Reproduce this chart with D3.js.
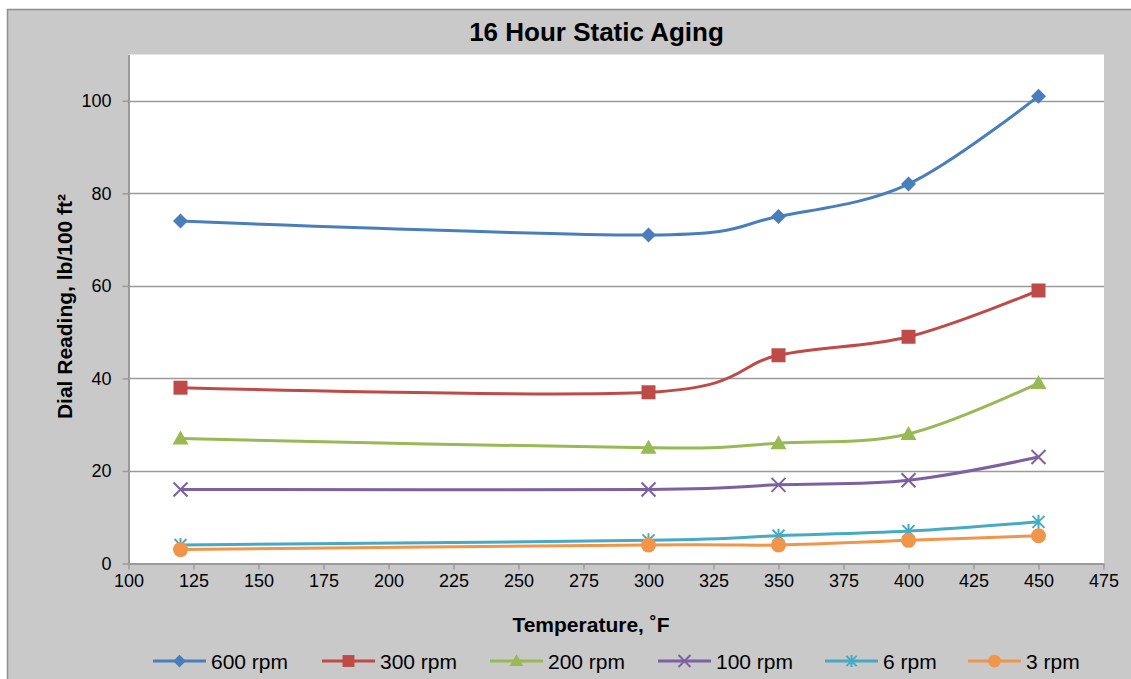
<!DOCTYPE html>
<html><head><meta charset="utf-8">
<script src="https://cdn.jsdelivr.net/npm/d3@7"></script>
<style>body{margin:0;background:#fff;}svg{display:block;font-family:"Liberation Sans",Arial,sans-serif;}</style>
</head><body><svg id="c" width="1131" height="679"></svg>
<script>
const temps = [120, 300, 350, 400, 450];
const seriesNames = ["600 rpm", "300 rpm", "200 rpm", "100 rpm", "6 rpm", "3 rpm"];
const rpm600 = [74, 71, 75, 82, 101];
const rpm300 = [38, 37, 45, 49, 59];
const rpm200 = [27, 25, 26, 28, 39];
const rpm100 = [16, 16, 17, 18, 23];
const rpm6 = [4, 5, 6, 7, 9];
const rpm3 = [3, 4, 4, 5, 6];
const xTicks = [100,125,150,175,200,225,250,275,300,325,350,375,400,425,450,475];
const yTicks = [0,20,40,60,80,100];
const colors = ["#4A7EBB","#BE4B48","#98B954","#7D60A0","#46AAC5","#F0954A"];
const markers = ["diamond","square","triangle","x","star","circle"];
const values = [rpm600, rpm300, rpm200, rpm100, rpm6, rpm3];

const svg = d3.select("#c");
svg.append("rect").attr("x",7.5).attr("y",9.5).attr("width",1140).attr("height",700)
  .attr("fill","#c9c9c9").attr("stroke","#8e8e8e").attr("stroke-width",1.5);

const L=128.5, R=1104, T=54.5, B=563.5;
const x = d3.scaleLinear().domain([100,475]).range([L,R-0.5]);
const y = d3.scaleLinear().domain([0,110]).range([B,T]);

svg.append("rect").attr("x",L).attr("y",T).attr("width",R-L).attr("height",B-T).attr("fill","#fff");

// gridlines
svg.append("g").selectAll("line").data(yTicks.filter(d=>d>0)).join("line")
  .attr("x1",L).attr("x2",R).attr("y1",d=>Math.round(y(d))+0.5).attr("y2",d=>Math.round(y(d))+0.5)
  .attr("stroke","#9a9a9a").attr("stroke-width",1.5);

const gx = svg.append("g").attr("transform",`translate(0,${B})`)
  .call(d3.axisBottom(x).tickValues(xTicks).tickSize(6).tickSizeOuter(0).tickPadding(5));
const gy = svg.append("g").attr("transform",`translate(${L},0)`)
  .call(d3.axisLeft(y).tickValues(yTicks).tickSize(6).tickSizeOuter(0).tickPadding(11));
[gx,gy].forEach(g=>{
  g.select(".domain").attr("stroke","#9a9a9a").attr("stroke-width",2);
  g.selectAll(".tick line").attr("stroke","#9a9a9a").attr("stroke-width",1.5);
  g.selectAll(".tick text").attr("fill","#000").attr("font-size",18).attr("font-family","Liberation Sans, Arial, sans-serif");
});

const line = d3.line().x(d=>x(d[0])).y(d=>y(d[1])).curve(d3.curveCardinal.tension(0));

function drawMarker(g, type, cx, cy, color, s){
  s = s || 1;
  if(type==="diamond"){
    g.append("path").attr("d",`M${cx},${cy-7.5*s}L${cx+7.5*s},${cy}L${cx},${cy+7.5*s}L${cx-7.5*s},${cy}Z`).attr("fill",color);
  } else if(type==="square"){
    g.append("rect").attr("x",cx-7*s).attr("y",cy-7*s).attr("width",14*s).attr("height",14*s).attr("fill",color);
  } else if(type==="triangle"){
    g.append("path").attr("d",`M${cx},${cy-8*s}L${cx+8*s},${cy+6*s}L${cx-8*s},${cy+6*s}Z`).attr("fill",color);
  } else if(type==="x"){
    g.append("path").attr("d",`M${cx-7*s},${cy-7*s}L${cx+7*s},${cy+7*s}M${cx-7*s},${cy+7*s}L${cx+7*s},${cy-7*s}`).attr("stroke",color).attr("stroke-width",2);
  } else if(type==="star"){
    g.append("path").attr("d",`M${cx-6*s},${cy-6*s}L${cx+6*s},${cy+6*s}M${cx-6*s},${cy+6*s}L${cx+6*s},${cy-6*s}M${cx},${cy-7*s}L${cx},${cy+7*s}`).attr("stroke",color).attr("stroke-width",2);
  } else {
    g.append("circle").attr("cx",cx).attr("cy",cy).attr("r",7.5*s).attr("fill",color);
  }
}

values.forEach((vals,i)=>{
  const pts = temps.map((t,j)=>[t,vals[j]]);
  const g = svg.append("g");
  g.append("path").attr("d",line(pts)).attr("fill","none").attr("stroke",colors[i]).attr("stroke-width",3);
  pts.forEach(p=>drawMarker(g, markers[i], x(p[0]), y(p[1]), colors[i]));
});

// titles
svg.append("text").attr("x",596.5).attr("y",41).attr("text-anchor","middle")
  .attr("font-size",26).attr("font-weight","bold").text("16 Hour Static Aging");
svg.append("text").attr("transform","translate(72,306.5) rotate(-90)").attr("text-anchor","middle")
  .attr("font-size",21).attr("font-weight","bold").text("Dial Reading, lb/100 ft²");
svg.append("text").attr("x",591).attr("y",632).attr("text-anchor","middle")
  .attr("font-size",21).attr("font-weight","bold").text("Temperature, ˚F");

// legend
const legX = [153, 322, 490, 658, 825, 968];
seriesNames.forEach((n,i)=>{
  const g = svg.append("g");
  const ly = 661;
  g.append("line").attr("x1",legX[i]).attr("x2",legX[i]+53).attr("y1",ly).attr("y2",ly)
    .attr("stroke",colors[i]).attr("stroke-width",3);
  drawMarker(g, markers[i], legX[i]+26.5, ly, colors[i], 0.85);
  g.append("text").attr("x",legX[i]+58).attr("y",669).attr("font-size",21).text(n);
});
</script></body></html>
